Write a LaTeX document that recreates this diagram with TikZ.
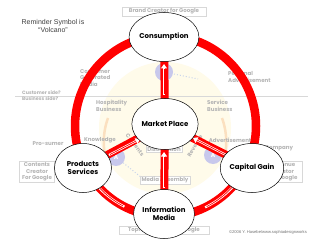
\documentclass[tikz,border=0pt]{standalone}
\usepackage{fontspec}
\setmainfont{Poppins}
\newfontfamily\arialf{Liberation Sans}
\usetikzlibrary{arrows.meta,shapes.geometric}
\definecolor{ringred}{HTML}{FF0000}
\definecolor{glab}{HTML}{B4B4B4}
\definecolor{gbord}{HTML}{D8D8D8}
\definecolor{paleyel}{HTML}{FFFBEA}
\definecolor{paleor}{HTML}{FBE0C0}
\definecolor{palepur}{HTML}{C8C8EC}
\definecolor{paleblue}{HTML}{C8D4EC}
\begin{document}
\begin{tikzpicture}[x=1pt,y=-1pt,
  mainnode/.style={ellipse, draw=black, line width=0.5pt, fill=white, inner sep=0pt,
     align=center, font=\fontsize{7}{8.4}\selectfont\bfseries},
  glabel/.style={text=glab, inner sep=0pt, align=left, font=\fontsize{5.5}{6.8}\selectfont\bfseries},
  gbox/.style={glabel, align=center, draw=gbord, fill=white, line width=0.5pt, inner sep=1.2pt},
  redbar/.style={draw=ringred, line width=8pt},
  warrow/.style={draw=white, line width=2.2pt, -{Triangle[length=4.5pt,width=6pt]}},
  wcore/.style={draw=ringred, line width=0.7pt},
  adisc/.style={circle, fill=palepur, minimum size=18pt, inner sep=0pt, text=white,
     font=\fontsize{6}{6}\selectfont\bfseries}
]
\useasboundingbox (0,0) rectangle (320,240);
\fill[white] (0,0) rectangle (320,240);
% background
\fill[paleyel] (165,128) circle (66);
\draw[paleor, line width=2.5pt] (108,118) arc[start angle=200, end angle=160, radius=70];
\draw[paleor, line width=2.5pt] (222,118) arc[start angle=-20, end angle=20, radius=70];
\draw[gbord, line width=0.4pt] (15,96) -- (308,96);
% faint texts
\node[glabel, anchor=north west] (cgm) at (80,69) {Consumer\\Generated\\Media};
\node[glabel, anchor=north west] (pad) at (228,71) {Personal\\Advertisement};
\node[glabel, anchor=north west, font=\fontsize{4.8}{6}\selectfont\bfseries] (cside) at (22,90) {Customer side?\\Business side?};
\node[glabel, anchor=north west] (hosp) at (96,100) {Hospitality\\Business};
\node[glabel, anchor=north west] (serv) at (207,100) {Service\\Business};
\node[glabel] (know) at (100,140) {Knowledge};
\node[glabel] (pros) at (48,144) {Pro-sumer};
\node[glabel] (adv) at (230,140) {Advertisement};
\node[glabel] (comp) at (279,148) {Company};
\node[glabel, rotate=-52] (cont) at (135,145) {Contents};
\node[glabel, rotate=59] (rev) at (195,146) {Revenue};
% purple discs
\fill[palepur] (164,72) circle (9);
\node[adisc] (ad1) at (116,157) {A};
\node[adisc] (ad2) at (213,155) {A};
\draw[paleblue, line width=1pt, dotted] (174,74) -- (198,79);
\draw[paleblue, line width=1pt, dotted] (ad1) -- (142,178);
% boxes
\node[gbox, minimum width=84pt, minimum height=9pt] (brand) at (164,11.5) {Brand Creator for Google};
\node[gbox, minimum width=35pt] (ccg) at (37,172) {Contents\\Creator\\For Google};
\node[gbox, minimum width=38pt] (rcg) at (283,172) {Revenue\\Creator\\for Google};
\node[gbox, minimum width=32pt, minimum height=7pt] (dist) at (164,149) {Distribution};
\node[gbox, minimum width=50pt, minimum height=8pt] (mass) at (165,180) {Media Assembly};
\node[gbox, minimum width=90pt, minimum height=8pt] (tcg) at (164,230) {Topics Creator for Google};
% main node centres
\coordinate (cC) at (164,37);
\coordinate (cI) at (164,214);
\coordinate (cM) at (165,124);
\coordinate (cP) at (83,168);
\coordinate (cG) at (252,168);
% ring
\draw[ringred, line width=8.5pt] (165.5,126) circle (90.5);
% spokes
\draw[redbar] (cM) -- (cC);
\draw[redbar] (cI) -- (cM);
\draw[redbar] (cP) -- (cM);
\draw[redbar] (cG) -- (cM);
% white arrows on ring
\draw[warrow] (165.5,126) ++(117:90.5) arc[start angle=117, end angle=141, radius=90.5];
\draw[wcore] (165.5,126) ++(118:90.5) arc[start angle=118, end angle=137, radius=90.5];
\draw[warrow] (165.5,126) ++(64:90.5) arc[start angle=64, end angle=38, radius=90.5];
\draw[wcore] (165.5,126) ++(63:90.5) arc[start angle=63, end angle=42, radius=90.5];
% white arrows on spokes
\draw[warrow] (164,95) -- (164,64);
\draw[wcore] (164,94) -- (164,69);
\draw[warrow] (164,188) -- (164,152);
\draw[wcore] (164,187) -- (164,157);
\draw[warrow] (109,155) -- (140,139);
\draw[wcore] (110,154.5) -- (136,141);
\draw[warrow] (228,156) -- (193,138);
\draw[wcore] (227,155.5) -- (197,140);
% nodes
\node[mainnode, minimum width=55pt, minimum height=49pt] (cons) at (cC) {Consumption};
\node[mainnode, minimum width=57pt, minimum height=49pt] (info) at (cI) {Information\\Media};
\node[mainnode, minimum width=61pt, minimum height=51pt] (mkt) at (cM) {Market Place};
\node[mainnode, minimum width=57pt, minimum height=49pt] (prod) at (cP) {Products\\Services};
\node[mainnode, minimum width=58pt, minimum height=49pt] (cap) at (cG) {Capital Gain};
% title & copyright
\node[text=black!75, align=center, inner sep=0pt, font=\arialf\fontsize{7}{9}\selectfont] (title) at (53,26) {Reminder Symbol is\\“Volcano”};
\node[text=black!55, inner sep=0pt, font=\arialf\fontsize{4.1}{4.5}\selectfont] (copy) at (268,232) {©2006 Y. Hasebe/www.sophiadesignworks};
\end{tikzpicture}
\end{document}
